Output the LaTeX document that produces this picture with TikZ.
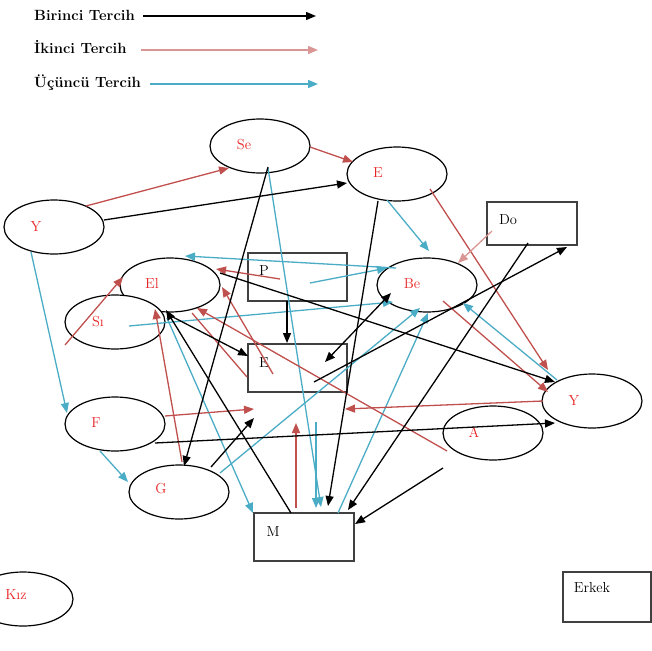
\documentclass[tikz,border=0pt]{standalone}
\usetikzlibrary{arrows.meta,shapes.geometric}
\definecolor{rc}{RGB}{192,80,77}
\definecolor{pc}{RGB}{217,150,148}
\definecolor{cc}{RGB}{75,172,198}
\definecolor{lblred}{RGB}{232,35,35}
\definecolor{boxgray}{RGB}{64,64,64}
\begin{document}
\begin{tikzpicture}[x=1pt,y=-1pt,
  ell/.style={ellipse,draw=black,line width=1.2pt,fill=white,minimum width=100pt,minimum height=54pt,inner sep=0pt},
  box/.style={rectangle,draw=boxgray,line width=1.3pt,fill=white,inner sep=0pt},
  lbl/.style={text=lblred,font=\fontsize{14.5}{16}\selectfont,inner sep=0pt,anchor=base},
  blbl/.style={text=black,font=\fontsize{14.5}{16}\selectfont,inner sep=0pt,anchor=base},
  leg/.style={font=\fontsize{14.8}{17}\selectfont\bfseries,anchor=base west,inner sep=0pt},
  ar/.style={line width=1.3pt,-{Triangle[length=10pt,width=8pt]}},
  dar/.style={line width=1.3pt,{Triangle[length=10pt,width=8pt]}-{Triangle[length=10pt,width=8pt]}},
  ln/.style={line width=1.3pt}]
\useasboundingbox (0,0) rectangle (652,650);

% ---------- legend ----------
\node[leg] (t1) at (34,21) {Birinci Tercih};
\node[leg] (t2) at (34,54) {İkinci Tercih};
\node[leg] (t3) at (34,88) {Üçüncü Tercih};
\coordinate (l1a) at (143,16); \coordinate (l1b) at (316,16);
\coordinate (l2a) at (141,50); \coordinate (l2b) at (318,50);
\coordinate (l3a) at (150,84); \coordinate (l3b) at (318,84);
\draw[ar,black] (l1a) -- (l1b);
\draw[ar,pc] (l2a) -- (l2b);
\draw[ar,cc] (l3a) -- (l3b);

% ---------- shapes ----------
\node[ell] (se) at (260,146) {};
\node[ell] (et) at (397,174) {};
\node[ell] (yl) at (54,227) {};
\node[ell] (el) at (170,285) {};
\node[ell] (si) at (115,322) {};
\node[ell] (be) at (427,285) {};
\node[ell] (yr) at (592,401) {};
\node[ell] (a) at (493,433) {};
\node[ell] (f) at (115,424) {};
\node[ell] (g) at (179,492) {};
\node[ell] (kiz) at (23,599) {};
\node[box,minimum width=90pt,minimum height=43pt] (do) at (532,223.5) {};
\node[box,minimum width=99pt,minimum height=48pt] (p) at (297.5,277) {};
\node[box,minimum width=99pt,minimum height=48pt] (em) at (297.5,368) {};
\node[box,minimum width=100pt,minimum height=48pt] (m) at (304,537) {};
\node[box,minimum width=88pt,minimum height=50pt] (erkek) at (607,597) {};

% ---------- labels ----------
\node[lbl] (seL) at (244,149) {Se};
\node[lbl] (etL) at (378,177) {E};
\node[lbl] (ylL) at (36,231) {Y};
\node[lbl] (elL) at (152,288) {El};
\node[lbl] (siL) at (98,326) {Sı};
\node[lbl] (beL) at (412,288) {Be};
\node[lbl] (yrL) at (574,405) {Y};
\node[lbl] (aL) at (474,437) {A};
\node[lbl] (fL) at (96,427) {F};
\node[lbl] (gL) at (161,493) {G};
\node[lbl] (kizL) at (16,599) {Kız};
\node[blbl] (doL) at (508,224) {Do};
\node[blbl] (pL) at (264,275) {P};
\node[blbl] (emL) at (264,367) {E};
\node[blbl] (mL) at (273,536) {M};
\node[blbl] (erkekL) at (592,592) {Erkek};

% ---------- connector end points ----------
% black
\coordinate (k1a) at (104,220); \coordinate (k1b) at (347,183);
\coordinate (k2a) at (268,167); \coordinate (k2b) at (184,466);
\coordinate (k3a) at (378,201); \coordinate (k3b) at (328,506);
\coordinate (k4a) at (528,243); \coordinate (k4b) at (348,510);
\coordinate (k5a) at (443,468); \coordinate (k5b) at (355,524);
\coordinate (k6a) at (287,301); \coordinate (k6b) at (287,343);
\coordinate (k7a) at (220,273); \coordinate (k7b) at (555,382);
\coordinate (k8a) at (169,315); \coordinate (k8b) at (248,356);
\coordinate (k9a) at (291,513); \coordinate (k9b) at (166,310);
\coordinate (k10a) at (211,467); \coordinate (k10b) at (254,418);
\coordinate (k11a) at (155,443); \coordinate (k11b) at (555,423);
\coordinate (k12a) at (314,382); \coordinate (k12b) at (567,247);
\coordinate (k13a) at (325,362); \coordinate (k13b) at (391,293);
% red
\coordinate (r1a) at (86,206); \coordinate (r1b) at (229,168);
\coordinate (r2a) at (310,147); \coordinate (r2b) at (353,162);
\coordinate (r3a) at (430,189); \coordinate (r3b) at (548,370);
\coordinate (r4a) at (296,508); \coordinate (r4b) at (296,423);
\coordinate (r5a) at (280,279); \coordinate (r5b) at (216,269);
\coordinate (r6a) at (182,462); \coordinate (r6b) at (155,309);
\coordinate (r7a) at (65,345); \coordinate (r7b) at (123,277);
\coordinate (r8a) at (273,374); \coordinate (r8b) at (222,287);
\coordinate (r9a) at (192,313); \coordinate (r9b) at (247,377);
\coordinate (r10a) at (447,451); \coordinate (r10b) at (197,308);
\coordinate (r11a) at (165,416); \coordinate (r11b) at (254,409);
\coordinate (r12a) at (543,401); \coordinate (r12b) at (345,409);
\coordinate (r13a) at (443,301); \coordinate (r13b) at (548,392);
% pink
\coordinate (p1a) at (492,231); \coordinate (p1b) at (458,263);
% cyan
\coordinate (c1a) at (31,252); \coordinate (c1b) at (67,413);
\coordinate (c2a) at (100,451); \coordinate (c2b) at (128,482);
\coordinate (c3a) at (387,200); \coordinate (c3b) at (429,251);
\coordinate (c4a) at (268,168); \coordinate (c4b) at (321,507);
\coordinate (c5a) at (316,422); \coordinate (c5b) at (316,508);
\coordinate (c6a) at (396,268); \coordinate (c6b) at (185,256);
\coordinate (c7a) at (310,283); \coordinate (c7b) at (387,268);
\coordinate (c8a) at (129,326); \coordinate (c8b) at (393,302);
\coordinate (c9a) at (220,473); \coordinate (c9b) at (420,308);
\coordinate (c10a) at (338,513); \coordinate (c10b) at (428,313);
\coordinate (c11a) at (557,380); \coordinate (c11b) at (463,303);
\coordinate (c12a) at (167,318); \coordinate (c12b) at (253,513);

% ---------- connectors ----------
\foreach \e in {c1,c2,c3,c4,c5,c6,c7,c8,c9,c10,c11,c12}
  \draw[ar,cc] (\e a) -- (\e b);
\foreach \e in {r1,r2,r3,r4,r5,r6,r7,r8,r10,r11,r12,r13}
  \draw[ar,rc] (\e a) -- (\e b);
\draw[ln,rc] (r9a) -- (r9b);
\draw[ar,pc] (p1a) -- (p1b);
\foreach \e in {k1,k2,k3,k4,k5,k6,k7,k8,k9,k10,k11,k12}
  \draw[ar,black] (\e a) -- (\e b);
\draw[dar,black] (k13a) -- (k13b);
\end{tikzpicture}
\end{document}
